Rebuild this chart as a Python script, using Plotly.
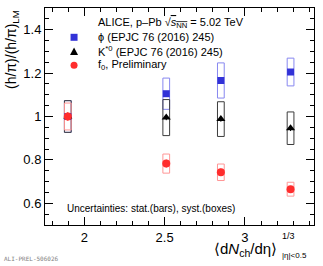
import plotly.graph_objects as go

# ---- data ----
x_vals = [1.897, 2.51, 2.85, 3.284]
phi_vals = [1.0, 1.105, 1.166, 1.205]
phi_stat = [0.005, 0.006, 0.006, 0.007]
phi_syst = [0.073, 0.072, 0.081, 0.064]
kst_vals = [1.0, 0.995, 0.988, 0.946]
kst_stat = [0.01, 0.012, 0.012, 0.013]
kst_syst = [0.073, 0.083, 0.080, 0.075]
f0_vals = [1.0, 0.783, 0.743, 0.665]
f0_stat = [0.02, 0.018, 0.017, 0.015]
f0_syst = [0.062, 0.044, 0.038, 0.032]
box_halfwidth = 0.021

x_range = [1.755, 3.43]
y_range = [0.5, 1.5]

BLUE = "rgb(50,50,215)"
BLUE_BOX = "rgb(135,135,240)"
BLACK = "black"
BLACK_BOX = "rgb(60,60,60)"
RED = "rgb(255,45,45)"
RED_BOX = "rgb(255,150,150)"

FONT = "Liberation Sans, Arial, sans-serif"

fig = go.Figure()

series = [
    ("phi", phi_vals, phi_stat, phi_syst, BLUE, BLUE_BOX, "square", 7),
    ("kst", kst_vals, kst_stat, kst_syst, BLACK, BLACK_BOX, "triangle-up", 8),
    ("f0", f0_vals, f0_stat, f0_syst, RED, RED_BOX, "circle", 8),
]

shapes = []
for name, vals, stat, syst, col, bcol, sym, sz in series:
    for xv, yv, s in zip(x_vals, vals, syst):
        shapes.append(dict(type="rect", xref="x", yref="y",
                           x0=xv - box_halfwidth, x1=xv + box_halfwidth,
                           y0=yv - s, y1=yv + s,
                           line=dict(color=bcol, width=1), fillcolor="rgba(0,0,0,0)",
                           layer="below"))
for name, vals, stat, syst, col, bcol, sym, sz in series:
    fig.add_trace(go.Scatter(
        x=x_vals, y=vals, mode="markers",
        marker=dict(symbol=sym, size=sz, color=col, line=dict(width=0)),
        error_y=dict(type="data", array=stat, color=col, thickness=1, width=0),
        showlegend=False, hoverinfo="skip"))

# legend symbols (paper anchored, pixel sized)
leg_x = 0.108
leg_y = [0.865, 0.800, 0.736]
def pix(kind, yanchor, color, path=None):
    d = dict(xref="paper", yref="paper", xsizemode="pixel", ysizemode="pixel",
             xanchor=leg_x, yanchor=yanchor, fillcolor=color, line=dict(width=0))
    if kind == "path":
        d.update(type="path", path=path)
    else:
        d.update(type=kind, x0=-3.5, x1=3.5, y0=-3.5, y1=3.5)
    return d
shapes.append(pix("rect", leg_y[0], BLUE))
shapes.append(pix("path", leg_y[1], BLACK, path="M-4,-3.5 L4,-3.5 L0,3.8 Z"))
shapes.append(pix("circle", leg_y[2], RED))

axis_common = dict(
    showgrid=False, zeroline=False, showline=True, linecolor="black", linewidth=1,
    mirror="ticks", ticks="inside", ticklen=8, tickcolor="black", tickwidth=1,
    tickfont=dict(family=FONT, size=13, color="black"),
)
fig.update_layout(
    width=323, height=266,
    margin=dict(l=45, r=9, t=8, b=41),
    paper_bgcolor="white", plot_bgcolor="white",
    xaxis=dict(range=x_range, tickmode="linear", tick0=2, dtick=0.5,
               minor=dict(dtick=0.1, ticks="inside", ticklen=4, tickcolor="black"),
               **axis_common),
    yaxis=dict(range=y_range, tickmode="linear", tick0=0.6, dtick=0.2,
               minor=dict(dtick=0.05, ticks="inside", ticklen=4, tickcolor="black"),
               **axis_common),
    shapes=shapes,
    showlegend=False,
)

ann = []
def txt(text, x, y, size, xanchor="left", yanchor="middle", color="black", angle=0, family=FONT):
    ann.append(dict(text=text, x=x, y=y, xref="paper", yref="paper", showarrow=False,
                    xanchor=xanchor, yanchor=yanchor, textangle=angle,
                    font=dict(family=family, size=size, color=color)))

lx0 = 0.19
txt("ALICE, p–Pb √<span style='text-decoration:overline'><i>s</i><sub>NN</sub></span> = 5.02 TeV", lx0, 0.930, 11)
txt("ϕ (EPJC 76 (2016) 245)", lx0, 0.865, 11)
txt("K<sup>*0</sup> (EPJC 76 (2016) 245)", lx0, 0.800, 11)
txt("f<sub>0</sub>, Preliminary", lx0, 0.736, 11)
txt("Uncertainties: stat.(bars), syst.(boxes)", 0.075, 0.075, 10)
# y title
txt("(h/π)/(h/π)<sub>LM</sub>", -0.125, 1.0, 14, xanchor="center", yanchor="top", angle=-90)
# x title
txt("⟨d<i>N</i><sub>ch</sub>/dη⟩", 0.87, -0.112, 15, xanchor="right", yanchor="middle")
txt("1/3", 0.875, -0.05, 9, xanchor="left", yanchor="middle")
txt("|η|<0.5", 0.872, -0.14, 8, xanchor="left", yanchor="middle")
txt("ALI-PREL-506026", -0.16, -0.182, 6, xanchor="left", yanchor="bottom", color="gray",
    family="DejaVu Sans Mono, monospace")
fig.update_layout(annotations=ann)

fig.write_html("out.html", config={"displayModeBar": False, "staticPlot": True})

# remove the browser's default body margin so the figure sits at the page origin
with open("out.html", "r", encoding="utf-8") as f:
    html = f.read()
html = html.replace("<head>", "<head><style>html,body{margin:0;padding:0;overflow:hidden;}</style>", 1)
with open("out.html", "w", encoding="utf-8") as f:
    f.write(html)
